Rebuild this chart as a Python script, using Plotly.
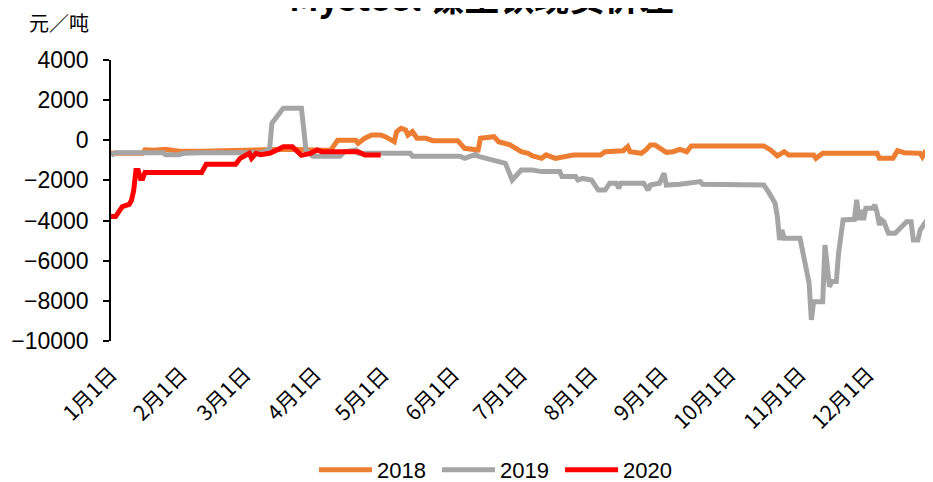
import plotly.graph_objects as go

BASE_YEAR = "2019"

# ---- data (month-day, 元/吨) ----
dates_2018 = ["01-01", "01-15", "01-16", "01-20", "01-25", "01-31", "02-10", "02-25", "03-10", "03-20",
              "04-05", "04-08", "04-11", "04-19", "04-20", "04-23", "04-26", "04-30", "05-02", "05-06",
              "05-07", "05-09", "05-11", "05-12", "05-14", "05-16", "05-20", "05-23", "06-03", "06-06",
              "06-12", "06-13", "06-19", "06-21", "06-26", "06-29", "07-01", "07-04", "07-06", "07-10",
              "07-12", "07-16", "07-21", "07-24", "08-05", "08-07", "08-15", "08-17", "08-18", "08-23",
              "08-25", "08-27", "08-29", "09-01", "09-03", "09-06", "09-09", "09-12", "09-14", "10-16",
              "10-19", "10-22", "10-25", "10-27", "11-07", "11-08", "11-11", "12-05", "12-06", "12-12",
              "12-14", "12-17", "12-24", "12-25", "12-26", "12-28", "12-29"]
vals_2018 = [-650, -650, -480, -500, -450, -550, -550, -500, -500, -450,
             -500, -480, 0, 0, -150, 100, 260, 260, 180, -70,
             430, 600, 510, 260, 430, 100, 100, -20, -20, -400,
             -480, 100, 180, -70, -230, -480, -570, -650, -780, -900,
             -730, -900, -820, -730, -730, -570, -520, -320, -570, -650,
             -480, -230, -230, -480, -600, -570, -450, -570, -280, -280,
             -480, -780, -570, -730, -730, -900, -650, -650, -900, -900,
             -520, -620, -650, -820, -620, -780, -620]

dates_2019 = ["01-01", "01-03", "01-24", "01-25", "01-31", "02-02", "02-09", "02-26", "03-09", "03-12",
              "03-13", "03-18", "03-26", "03-27", "03-28", "03-31", "04-12", "04-14", "04-17", "04-19",
              "04-20", "05-13", "05-14", "06-04", "06-06", "06-11", "06-12", "06-18", "06-24", "06-27",
              "07-01", "07-06", "07-10", "07-18", "07-19", "07-25", "07-26", "07-28", "08-01", "08-04",
              "08-07", "08-09", "08-12", "08-13", "08-14", "08-24", "08-26", "08-27", "08-31", "09-02",
              "09-03", "09-09", "09-18", "09-19", "10-08", "10-16", "10-18", "10-21", "10-22", "10-23",
              "10-24", "10-25", "11-01", "11-03", "11-05", "11-06", "11-07", "11-11", "11-12", "11-14",
              "11-15", "11-17", "11-18", "11-20", "11-25", "11-26", "11-27", "11-28", "11-29", "11-30",
              "12-03", "12-04", "12-05", "12-06", "12-07", "12-08", "12-10", "12-13", "12-16", "12-18",
              "12-20", "12-21", "12-23", "12-24", "12-27", "12-29"]
vals_2019 = [-750, -620, -620, -720, -720, -650, -620, -620, -620, -400,
             850, 1600, 1600, 600, -480, -800, -800, -570, -480, -480,
             -650, -650, -790, -790, -900, -700, -800, -980, -1150, -1980,
             -1480, -1480, -1560, -1560, -1810, -1810, -1980, -1900, -1980, -2480,
             -2480, -2140, -2140, -2390, -2140, -2140, -2480, -2230, -2140, -1640,
             -2230, -2190, -2060, -2190, -2190, -2230, -2560, -3140, -3810, -4970,
             -4470, -4880, -4880, -5960, -7120, -8950, -8040, -8040, -5220, -7290,
             -7040, -7040, -5630, -3970, -3940, -2970, -3970, -3470, -3970, -3390,
             -3390, -3220, -3600, -4220, -3970, -4060, -4630, -4630, -4300, -4060,
             -4060, -4970, -4970, -4470, -3970, -3970]

dates_2020 = ["01-01", "01-03", "01-06", "01-09", "01-10", "01-11", "01-12", "01-13", "01-14", "01-15",
              "01-16", "02-10", "02-12", "02-25", "02-27", "03-01", "03-03", "03-04", "03-06", "03-08",
              "03-12", "03-15", "03-18", "03-22", "03-26", "03-30", "04-02", "04-04", "04-20", "04-23",
              "04-30"]
vals_2020 = [-3800, -3800, -3300, -3200, -3000, -2500, -1500, -1500, -1900, -1900,
             -1600, -1600, -1200, -1200, -900, -800, -650, -900, -650, -720,
             -650, -500, -320, -320, -750, -650, -480, -570, -570, -730,
             -730]

series_names = ["2018", "2019", "2020"]
series_colors = ["#ED7D31", "#A5A5A5", "#FF0000"]

tick_dates = ["01-01", "02-01", "03-01", "04-01", "05-01", "06-01",
              "07-01", "08-01", "09-01", "10-01", "11-01", "12-01"]
tick_text = ["1月1日", "2月1日", "3月1日", "4月1日", "5月1日", "6月1日",
             "7月1日", "8月1日", "9月1日", "10月1日", "11月1日", "12月1日"]
y_ticks = [4000, 2000, 0, -2000, -4000, -6000, -8000, -10000]

title_text = "<b>Mysteel 镍生铁现货价差</b>"
y_unit = "元／吨"


def to_dt(md_list):
    return [f"{BASE_YEAR}-{md}" for md in md_list]


x_range = [f"{BASE_YEAR}-01-01", f"{BASE_YEAR}-12-29 16:00"]
y_range = [-10000, 4000]

fig = go.Figure()
for name, dts, vals, col in zip(series_names,
                                [dates_2018, dates_2019, dates_2020],
                                [vals_2018, vals_2019, vals_2020],
                                series_colors):
    fig.add_trace(go.Scatter(x=to_dt(dts), y=vals, mode="lines", name=name,
                             line=dict(color=col, width=5)))

base_font = "Liberation Sans, Arial, Noto Sans CJK SC, sans-serif"
cjk_font = "Noto Sans CJK SC, Liberation Sans, sans-serif"
zero_pos = (0 - y_range[0]) / (y_range[1] - y_range[0])

# the page has an 8px body margin, so the figure is sized 925x474
fig.update_layout(
    width=925, height=474,
    margin=dict(l=103, r=0, t=52, b=141, autoexpand=False),
    paper_bgcolor="white", plot_bgcolor="white",
    showlegend=True,
    legend=dict(orientation="h", x=0.247, xanchor="left", y=-0.459, yanchor="middle",
                font=dict(family=base_font, size=22, color="#000"),
                itemwidth=53, entrywidth=55, entrywidthmode="pixels", tracegroupgap=0),
    xaxis=dict(type="date", range=x_range, tickvals=to_dt(tick_dates), ticktext=tick_text,
               tickangle=-45, showline=False, showgrid=False, zeroline=False, ticks="",
               ticklabelstandoff=16, automargin=False,
               tickfont=dict(family=cjk_font, size=21, color="#000")),
    xaxis2=dict(type="date", range=x_range, overlaying="x", anchor="free", position=zero_pos,
                side="bottom", tickvals=to_dt(tick_dates), showticklabels=False,
                showline=True, linecolor="#000", linewidth=1.5, ticks="outside",
                ticklen=6, tickwidth=1.5, tickcolor="#000", showgrid=False, zeroline=False,
                automargin=False),
    yaxis=dict(range=y_range, tickvals=y_ticks, showline=True, linecolor="#000", linewidth=1.5,
               ticks="outside", ticklen=6, tickwidth=1.5, tickcolor="#000",
               showgrid=False, zeroline=False, tickformat="d", automargin=False,
               ticklabelstandoff=10,
               tickfont=dict(family=base_font, size=23, color="#000")),
    annotations=[
        dict(text=y_unit, xref="paper", yref="paper", x=-0.0633, y=1.135,
             xanchor="center", yanchor="middle", showarrow=False,
             font=dict(family=cjk_font, size=20, color="#000")),
        dict(text=title_text, xref="paper", yref="paper", x=0.451, y=1.231,
             xanchor="center", yanchor="middle", showarrow=False,
             font=dict(family=cjk_font, size=35, color="#000")),
    ],
)

fig.write_html("out.html")
